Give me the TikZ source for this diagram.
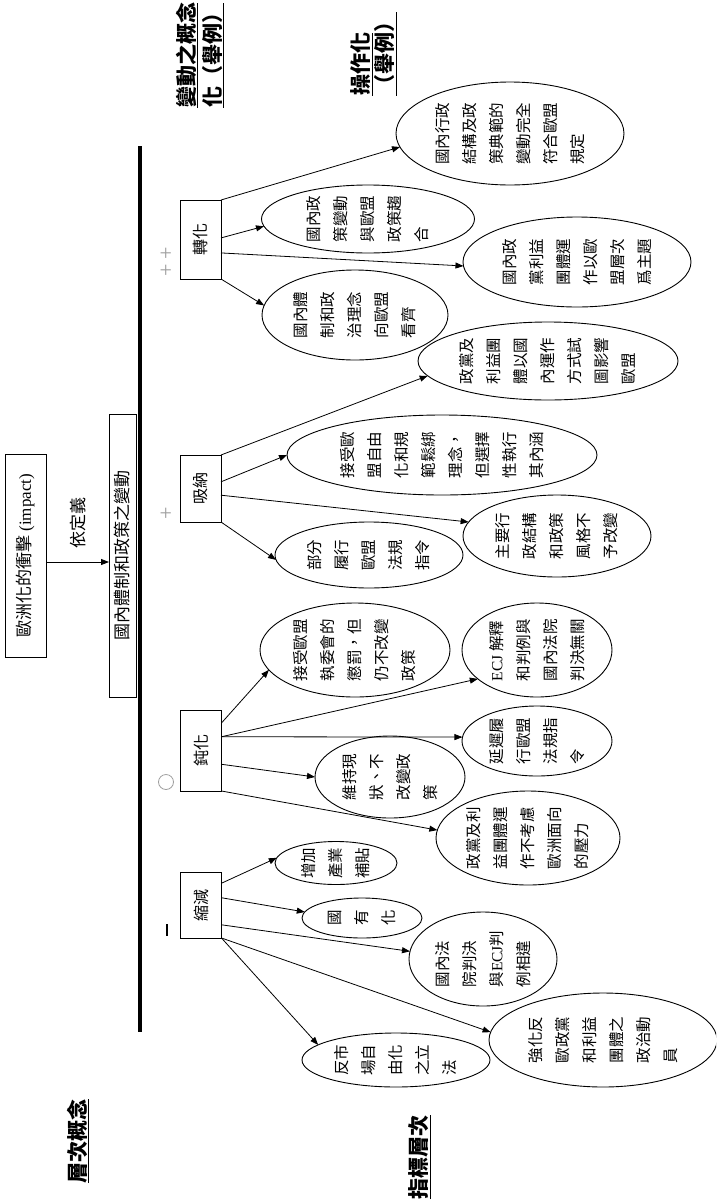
\documentclass[tikz,border=0pt]{standalone}
\usepackage{fontspec}
\usepackage{graphicx}
\setmainfont{Liberation Serif}
\newfontfamily\cjk{Noto Sans CJK TC}
\usetikzlibrary{arrows.meta,shapes.geometric,calc}
\begin{document}
\begin{tikzpicture}[x=1pt,y=-1pt,
  box/.style={draw,line width=0.9pt,inner sep=0pt,outer sep=0pt,rectangle},
  ell/.style={draw,ellipse,line width=0.9pt,inner sep=0pt,outer sep=0pt},
  etxt/.style={rotate=90,align=left,inner sep=0pt,font=\cjk\fontsize{15.5}{27}\selectfont},
  arr/.style={line width=0.8pt,-{Triangle[length=8pt,width=6pt]}},
  lbl/.style={rotate=90,align=left,inner sep=0pt,font=\cjk\bfseries\fontsize{21}{26}\selectfont},
  sign/.style={rotate=90,inner sep=0pt,text=gray!75,font=\fontsize{22}{22}\selectfont},
  cat/.style={box,minimum width=41pt,font=\cjk\fontsize{16}{18}\selectfont},
]
\fill[white] (0,0) rectangle (716,1202);
\clip (0,0) rectangle (716,1202);

% ---- level captions ----
\node[lbl] (lvA) at (200,55) {\underline{變動之概念}\\\underline{化（舉例）}};
\node[lbl,font=\cjk\bfseries\fontsize{21}{24}\selectfont] (lvB) at (374,53.5) {\underline{操作化}\\\underline{（舉例）}};
\node[lbl] (lvC) at (78,1141) {\underline{層次概念}};
\node[lbl] (lvD) at (420,1157) {\underline{指標層次}};

% ---- impact and definition ----
\node[box,minimum width=41pt,minimum height=203pt,font=\cjk\fontsize{17}{20}\selectfont]
  (imp) at (25.5,555.5) {\rotatebox{90}{歐洲化的衝擊 {\rmfamily (impact)}}};
\node[box,minimum width=27pt,minimum height=283pt,font=\cjk\fontsize{17}{20}\selectfont]
  (dom) at (122.5,555.5) {\rotatebox{90}{國內體制和政策之變動}};
\draw[arr] ([yshift=-6.5pt]imp.east) -- ([yshift=-6.5pt]dom.west);
\node[rotate=90,inner sep=0pt,font=\cjk\fontsize{17}{20}\selectfont] (def) at (78,523) {依定義};

% ---- scale axis ----
\coordinate (axT) at (140,146);
\coordinate (axB) at (140,1032);
\draw[line width=3.5pt] (axT) -- (axB);

% ---- degree signs ----
\node[sign] (sgA) at (167,262) {+\kern5pt+};
\node[sign] (sgB) at (167,513) {+};
\node[circle,draw=gray!75,line width=0.8pt,minimum size=15pt,inner sep=0pt] (sgC) at (166,782) {};
\node[fill=black,minimum width=2.5pt,minimum height=12pt,inner sep=0pt] (sgD) at (167,930) {};

% ---- categories ----
\node[cat,minimum height=79pt] (zh) at (200.5,239.5) {\rotatebox{90}{轉化}};
\node[cat,minimum height=67pt] (xn) at (200.5,488.5) {\rotatebox{90}{吸納}};
\node[cat,minimum height=81pt] (dh) at (201,750.5) {\rotatebox{90}{鈍化}};
\node[cat,minimum height=66pt] (sj) at (201,905) {\rotatebox{90}{縮減}};

% ---- transformation ----
\node[ell,minimum width=213pt,minimum height=68pt] (e1) at (368,219) {};
\node[etxt] (t1) at (e1) {國內政\\策變動\\與歐盟\\政策趨\\合};
\node[ell,minimum width=228pt,minimum height=103pt] (e2) at (510,133.5) {};
\node[etxt] (t2) at (e2) {國內行政\\結構及政\\策典範的\\變動完全\\符合歐盟\\規定};
\node[ell,minimum width=228pt,minimum height=90pt] (e3) at (577,262) {};
\node[etxt] (t3) at (e3) {國內政\\黨利益\\團體運\\作以歐\\盟層次\\爲主題};
\node[ell,minimum width=186pt,minimum height=90pt] (e4) at (355,315) {};
\node[etxt] (t4) at (e4) {國內體\\制和政\\治理念\\向歐盟\\看齊};

% ---- absorption ----
\node[ell,minimum width=260pt,minimum height=78pt] (e5) at (548,361) {};
\node[etxt] (t5) at (e5) {政黨及\\利益團\\體以國\\內運作\\方式試\\圖影響\\歐盟};
\node[ell,minimum width=310pt,minimum height=80pt] (e6) at (442,455) {};
\node[etxt] (t6) at (e6) {接受歐\\盟自由\\化和規\\範鬆綁\\理念，\\但選擇\\性執行\\其內涵};
\node[ell,minimum width=188pt,minimum height=82pt] (e7) at (557,536) {};
\node[etxt] (t7) at (e7) {主要行\\政結構\\和政策\\風格不\\予改變};
\node[ell,minimum width=188pt,minimum height=66pt] (e8) at (369,555) {};
\node[etxt] (t8) at (e8) {部分\\履行\\歐盟\\法規\\指令};

% ---- inertia ----
\node[ell,minimum width=190pt,minimum height=94pt] (e9) at (355,650) {};
\node[etxt] (t9) at (e9) {接受歐盟\\執委會的\\懲罰，但\\仍不改變\\政策};
\node[ell,minimum width=150pt,minimum height=94pt] (e10) at (537,650) {};
\node[etxt] (t10) at (e10) {{\rmfamily ECJ} 解釋\\和判例與\\國內法院\\判決無關};
\node[ell,minimum width=150pt,minimum height=70pt] (e11) at (537,741) {};
\node[etxt] (t11) at (e11) {延遲履\\行歐盟\\法規指\\令};
\node[ell,minimum width=150pt,minimum height=82pt] (e12) at (390,777) {};
\node[etxt] (t12) at (e12) {維持現\\狀、不\\改變政\\策};
\node[ell,minimum width=184pt,minimum height=94pt] (e13) at (528,838) {};
\node[etxt] (t13) at (e13) {政黨及利\\益團體運\\作不考慮\\歐洲面向\\的壓力};

% ---- retrenchment ----
\node[ell,minimum width=122pt,minimum height=43pt] (e14) at (336,863) {};
\node[etxt] (t14) at (e14) {增加\\產業\\補貼};
\node[ell,minimum width=120pt,minimum height=40pt] (e15) at (362,918) {};
\node[etxt] (t15) at (e15) {國\\有\\化};
\node[ell,minimum width=148pt,minimum height=94pt] (e16) at (483,959) {};
\node[etxt] (t16) at (e16) {國內法\\院判決\\與{\rmfamily ECJ}判\\例相違};
\node[ell,minimum width=188pt,minimum height=54pt] (e17) at (396,1060) {};
\node[etxt] (t17) at (e17) {反市\\場自\\由化\\之立\\法};
\node[ell,minimum width=228pt,minimum height=94pt] (e18) at (603,1040) {};
\node[etxt] (t18) at (e18) {強化反\\歐政黨\\和利益\\團體之\\政治動\\員};

% ---- connectors ----
\draw[arr] (zh.north east) -- (e2.187);
\draw[arr] ($(zh.north east)!0.48!(zh.south east)$) -- (e1.184);
\draw[arr] ($(zh.north east)!0.67!(zh.south east)$) -- (e3.182.5);
\draw[arr] (zh.south east) -- (e4.174);

\draw[arr] (xn.north east) -- (e5.187);
\draw[arr] ($(xn.north east)!0.4!(xn.south east)$) -- (e6.180);
\draw[arr] ($(xn.north east)!0.6!(xn.south east)$) -- (e7.171.6);
\draw[arr] (xn.south east) -- (e8.183);

\draw[arr] ($(dh.north east)!0.16!(dh.south east)$) -- (e9.193.7);
\draw[arr] ($(dh.north east)!0.33!(dh.south east)$) -- (e10.206);
\draw[arr] ($(dh.north east)!0.33!(dh.south east)$) -- (e11.177);
\draw[arr] ($(dh.north east)!0.67!(dh.south east)$) -- (e12.180);
\draw[arr] (dh.south east) -- (e13.175);

\draw[arr] ($(sj.north east)!0.17!(sj.south east)$) -- (e14.175.5);
\draw[arr] ($(sj.north east)!0.39!(sj.south east)$) -- (e15.174.5);
\draw[arr] ($(sj.north east)!0.8!(sj.south east)$) -- (e16.174.7);
\draw[arr] (sj.south east) -- (e18.176.5);
\draw[arr] (sj.south east) -- (e17.169.8);
\end{tikzpicture}
\end{document}
